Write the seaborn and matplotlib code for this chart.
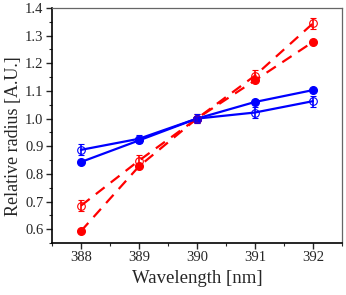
import matplotlib
matplotlib.use("Agg")
import matplotlib.pyplot as plt
import pandas as pd
import seaborn as sns
from matplotlib.ticker import MultipleLocator

wavelength = [388, 389, 390, 391, 392]

red_filled = [0.593, 0.827, 1.0, 1.138, 1.277]
red_open = [0.685, 0.848, 1.0, 1.155, 1.344]
red_open_err = [0.02, 0.02, 0.015, 0.02, 0.02]

blue_filled = [0.843, 0.921, 1.0, 1.060, 1.103]
blue_open = [0.887, 0.927, 1.0, 1.022, 1.063]
blue_open_err = [0.02, 0.015, 0.015, 0.02, 0.02]

sns.set_style("ticks")
plt.rcParams['font.family'] = ['Liberation Serif', 'DejaVu Serif']

df = pd.DataFrame({
    'Wavelength': wavelength,
    'red_filled': red_filled,
    'red_open': red_open,
    'blue_filled': blue_filled,
    'blue_open': blue_open,
})

fig = plt.figure(figsize=(3.46, 2.95), dpi=100)
ax = fig.add_axes([0.150, 0.176, 0.838, 0.797])

dash = (5, 3.5)
sns.lineplot(data=df, x='Wavelength', y='red_open', ax=ax, color='red', lw=1.6,
             linestyle=(0, dash), zorder=2)
sns.lineplot(data=df, x='Wavelength', y='red_filled', ax=ax, color='red', lw=1.6,
             linestyle=(0, dash), zorder=2)
sns.lineplot(data=df, x='Wavelength', y='blue_open', ax=ax, color='blue', lw=1.6, zorder=3)
sns.lineplot(data=df, x='Wavelength', y='blue_filled', ax=ax, color='blue', lw=1.6, zorder=3)

# filled markers
ax.plot(wavelength, red_filled, 'o', color='red', ms=5.5, zorder=4)
ax.plot(wavelength, blue_filled, 'o', color='blue', ms=5.5, zorder=4)
# open markers with error bars
ax.errorbar(wavelength, red_open, yerr=red_open_err, fmt='o', mfc='none', mec='red',
            ecolor='red', ms=5.5, mew=0.8, capsize=2.5, elinewidth=1.2, capthick=1.2, zorder=4)
ax.errorbar(wavelength, blue_open, yerr=blue_open_err, fmt='o', mfc='none', mec='blue',
            ecolor='blue', ms=5.5, mew=0.8, capsize=2.5, elinewidth=1.2, capthick=1.2, zorder=4)

ax.set_xlim(387.5, 392.5)
ax.set_ylim(0.55, 1.4)
ax.xaxis.set_major_locator(MultipleLocator(1))
ax.xaxis.set_minor_locator(MultipleLocator(0.5))
ax.yaxis.set_minor_locator(MultipleLocator(0.05))
ax.set_yticks([0.6, 0.7, 0.8, 0.9, 1.0, 1.1, 1.2, 1.3, 1.4])

ax.tick_params(which='major', direction='out', length=4, width=1, labelsize=10.5, pad=2)
ax.tick_params(which='minor', direction='out', length=2.5, width=0.8)
for side in ['left', 'bottom']:
    ax.spines[side].set_linewidth(1.2)
    ax.spines[side].set_color('black')
for side in ['top', 'right']:
    ax.spines[side].set_linewidth(0.9)
    ax.spines[side].set_color('#666666')

ax.set_xlabel('Wavelength [nm]', fontsize=13.5, labelpad=4)
ax.set_ylabel('Relative radius [A.U.]', fontsize=13)
ax.yaxis.set_label_coords(-0.103, 0.455)

fig.savefig('out.png', dpi=100)
